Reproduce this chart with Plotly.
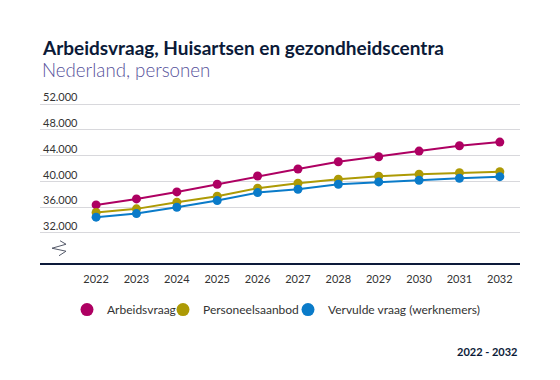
import plotly.graph_objects as go

years = [2022, 2023, 2024, 2025, 2026, 2027, 2028, 2029, 2030, 2031, 2032]
arbeidsvraag = [36340, 37270, 38360, 39550, 40840, 41920, 43050, 43830, 44710, 45540, 46110]
personeelsaanbod = [35150, 35720, 36760, 37690, 38930, 39700, 40330, 40790, 41100, 41350, 41500]
vervulde_vraag = [34430, 34990, 35980, 37010, 38250, 38770, 39550, 39910, 40170, 40480, 40730]
series_names = ["Arbeidsvraag", "Personeelsaanbod", "Vervulde vraag (werknemers)"]
colors = ["#ae0062", "#ad9a05", "#0a7bc9"]
y_ticks = [32000, 36000, 40000, 44000, 48000, 52000]
y_tick_labels = ["32.000", "36.000", "40.000", "44.000", "48.000", "52.000"]

OFF = 8  # default page body margin
W, H = 560 - OFF, 380 - OFF
# plot area edges in page pixels
L, R, T, B = 40, 520, 85, 263.3

def px(x):
    return (x - L) / (R - L)

def py(y):
    return (B - y) / (B - T)

font_family = "Source Sans Pro, Lato, Noto Sans, sans-serif"

fig = go.Figure()
for name, vals, c in zip(series_names, [arbeidsvraag, personeelsaanbod, vervulde_vraag], colors):
    fig.add_trace(go.Scatter(x=years, y=vals, mode="lines+markers", name=name,
                             line=dict(color=c, width=2), marker=dict(color=c, size=9),
                             showlegend=False))

legend_ids = ["legend", "legend2", "legend3"]
legend_left = [67, 163, 288]
for name, c, lid in zip(series_names, colors, legend_ids):
    fig.add_trace(go.Scatter(x=[None], y=[None], mode="markers", name=name, legend=lid,
                             marker=dict(color=c, size=13)))

legend_common = dict(font=dict(size=12, color="#333333", family=font_family),
                     xanchor="left", yanchor="middle",
                     y=py(310), bgcolor="rgba(0,0,0,0)", borderwidth=0, itemwidth=30)

layout_legends = {}
for lid, xl in zip(legend_ids, legend_left):
    d = dict(legend_common)
    d["x"] = px(xl)
    layout_legends[lid] = d

fig.update_layout(
    width=W, height=H,
    margin=dict(l=L - OFF, r=(W + OFF) - R, t=T - OFF, b=(H + OFF) - B, autoexpand=False),
    paper_bgcolor="white", plot_bgcolor="white",
    font=dict(family=font_family, color="#333333", size=11),
    xaxis=dict(range=[2020.61, 2032.5], tickmode="array", tickvals=years,
               ticktext=[str(y) for y in years], showgrid=False, zeroline=False,
               showline=True, linecolor="#0d1a3a", linewidth=1.5, ticks="",
               ticklabelstandoff=5,
               tickfont=dict(size=11, color="#333333")),
    yaxis=dict(range=[27300, 54990], tickmode="array", tickvals=y_ticks,
               ticktext=y_tick_labels, showgrid=True, gridcolor="#d8d8dc", gridwidth=1,
               zeroline=False, showline=False, ticks="", ticklabelposition="inside top",
               ticklabelshift=1,
               tickfont=dict(size=11, color="#333333")),
    showlegend=True,
    **layout_legends,
)

fig.add_annotation(text="<b>Arbeidsvraag, Huisartsen en gezondheidscentra</b>",
                   xref="paper", yref="paper", x=px(40), y=py(47), xanchor="left", yanchor="middle",
                   showarrow=False, font=dict(size=19, color="#0b1a38", family=font_family))
fig.add_annotation(text="Nederland, personen",
                   xref="paper", yref="paper", x=px(40), y=py(70), xanchor="left", yanchor="middle",
                   showarrow=False, font=dict(size=18.7, color="#56519a", family=font_family, weight=300))
fig.add_annotation(text="<b>2022 - 2032</b>",
                   xref="paper", yref="paper", x=px(520), y=py(352), xanchor="right", yanchor="middle",
                   showarrow=False, font=dict(size=11, color="#0b1a38", family=font_family))

# axis break symbol
pts = [(60, 241), (66, 244.5), (52, 248.5), (66, 251.5), (59, 256)]
path = "M " + " L ".join(f"{px(x):.4f},{py(y):.4f}" for x, y in pts)
fig.add_shape(type="path", path=path, xref="paper", yref="paper",
              line=dict(color="#555a6a", width=1))

fig.write_html("out.html")
